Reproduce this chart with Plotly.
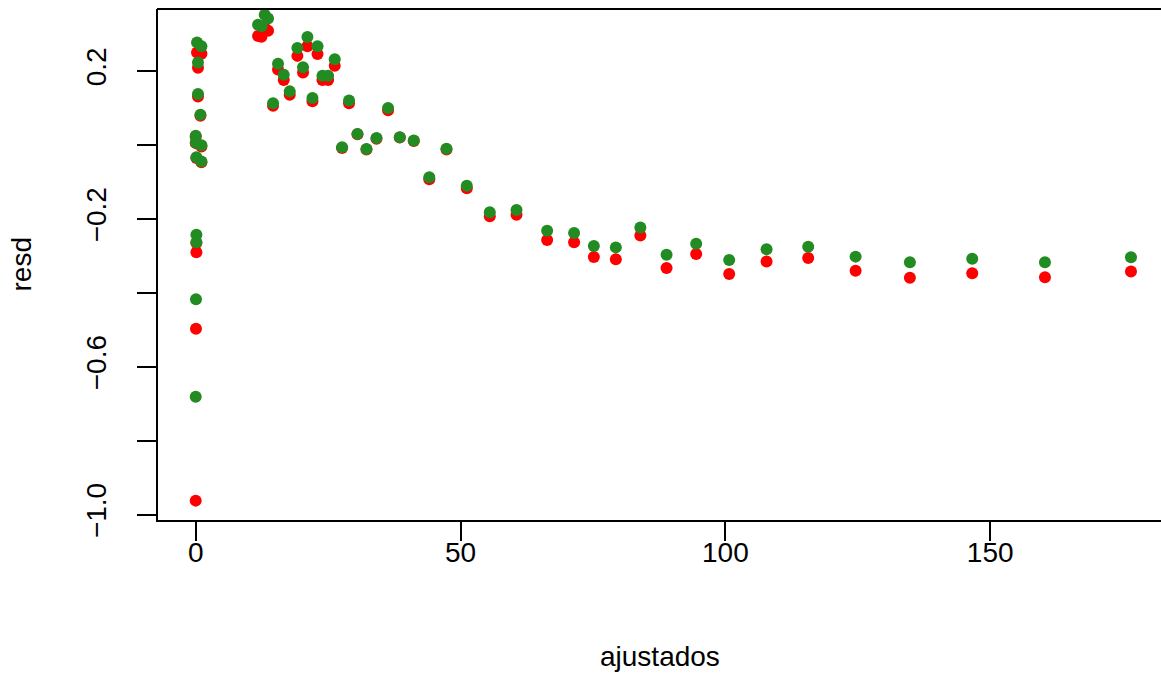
import plotly.graph_objects as go

# fitted values (x) for each observation
ajustados = [0.25, 1.08, 0.43, 0.43, 0.89, 0.0, 0.02, 1.08, 0.13, 1.08,
             0.13, 0.13, 0.05, 0.0,
             11.77, 12.41, 13.03, 13.66, 14.6, 15.54, 16.62, 17.75, 19.2, 20.26,
             21.09, 22.04, 23.0, 23.93, 24.99, 26.25, 27.63, 28.95, 30.54, 32.24,
             34.13, 36.32, 38.53, 41.17, 44.1, 47.35, 51.18, 55.52, 60.57, 66.35,
             71.44, 75.17, 79.32, 83.95, 88.9, 94.49, 100.72, 107.78, 115.64,
             124.59, 134.84, 146.61, 160.34, 176.58]

# residuals, red series
resd_red = [0.250, 0.247, 0.209, 0.131, 0.079, 0.022, 0.005, -0.004, -0.035, -0.047,
            -0.265, -0.290, -0.497, -0.962,
            0.295, 0.293, 0.317, 0.309, 0.106, 0.204, 0.176, 0.136, 0.241, 0.196,
            0.267, 0.118, 0.246, 0.176, 0.176, 0.214, -0.008, 0.113, 0.029, -0.012,
            0.017, 0.094, 0.020, 0.011, -0.093, -0.012, -0.117, -0.193, -0.189, -0.257,
            -0.263, -0.303, -0.309, -0.245, -0.333, -0.295, -0.349, -0.315, -0.306,
            -0.340, -0.359, -0.347, -0.358, -0.342]

# residuals, green series
resd_green = [0.277, 0.267, 0.223, 0.138, 0.082, 0.025, 0.007, -0.001, -0.033, -0.045,
              -0.243, -0.263, -0.417, -0.681,
              0.325, 0.321, 0.352, 0.342, 0.113, 0.220, 0.190, 0.145, 0.262, 0.210,
              0.292, 0.127, 0.267, 0.187, 0.187, 0.232, -0.006, 0.120, 0.030, -0.011,
              0.019, 0.100, 0.021, 0.012, -0.087, -0.010, -0.110, -0.182, -0.176, -0.232,
              -0.238, -0.273, -0.277, -0.223, -0.297, -0.267, -0.311, -0.282, -0.275,
              -0.302, -0.317, -0.308, -0.317, -0.304]

x_ticks = [0, 50, 100, 150]
x_tick_labels = ["0", "50", "100", "150"]
y_ticks = [-1.0, -0.8, -0.6, -0.4, -0.2, 0.0, 0.2]
y_tick_labels = ["\u22121.0", "", "\u22120.6", "", "\u22120.2", "", "0.2"]
x_title = "ajustados"
y_title = "resd"

FONT = "Liberation Sans, Arial, Helvetica, sans-serif"

fig = go.Figure()
fig.add_trace(go.Scatter(x=ajustados, y=resd_red, mode="markers",
                         marker=dict(color="#FF0000", size=12, line=dict(width=0)),
                         showlegend=False, cliponaxis=False))
fig.add_trace(go.Scatter(x=ajustados, y=resd_green, mode="markers",
                         marker=dict(color="#228B22", size=12, line=dict(width=0)),
                         showlegend=False, cliponaxis=False))

# top edge of the plot box (R's box); the box runs off the right page edge
fig.add_shape(type="line", xref="paper", yref="paper", x0=-0.001, x1=1.0, y0=1, y1=1,
              line=dict(color="black", width=2), layer="above")

# axis titles, placed as R places them
fig.add_annotation(text=x_title, xref="paper", yref="paper", x=0.5005, y=-0.268,
                   xanchor="center", yanchor="middle", showarrow=False,
                   font=dict(family=FONT, size=28, color="black"))
fig.add_annotation(text=y_title, xref="paper", yref="paper", x=-0.1356, y=0.5,
                   xanchor="center", yanchor="middle", showarrow=False, textangle=-90,
                   font=dict(family=FONT, size=28, color="black"))

fig.update_layout(
    width=1161, height=675,
    margin=dict(l=158, r=0, t=9, b=155, autoexpand=False),
    paper_bgcolor="white", plot_bgcolor="white",
    font=dict(family=FONT, size=28, color="black"),
    xaxis=dict(range=[-7.12, 182.25], tickvals=x_ticks, ticktext=x_tick_labels,
               showgrid=False, zeroline=False, showline=True, linecolor="black",
               linewidth=2, mirror=False, ticks="outside", ticklen=19, tickwidth=2,
               tickcolor="black", automargin=False, ticklabelstandoff=-13,
               tickfont=dict(family=FONT, size=28, color="black")),
    yaxis=dict(range=[-1.0144, 0.3678], tickvals=y_ticks, ticktext=y_tick_labels,
               showgrid=False, zeroline=False, showline=True, linecolor="black",
               linewidth=2, mirror=False, ticks="outside", ticklen=19, tickwidth=2,
               tickcolor="black", tickangle=-90, automargin=False, ticklabelstandoff=20,
               tickfont=dict(family=FONT, size=28, color="black")),
)

fig.write_html("out.html",
               config={"displayModeBar": False},
               post_script="document.body.style.margin='0';"
                           "document.body.style.overflow='hidden';")
